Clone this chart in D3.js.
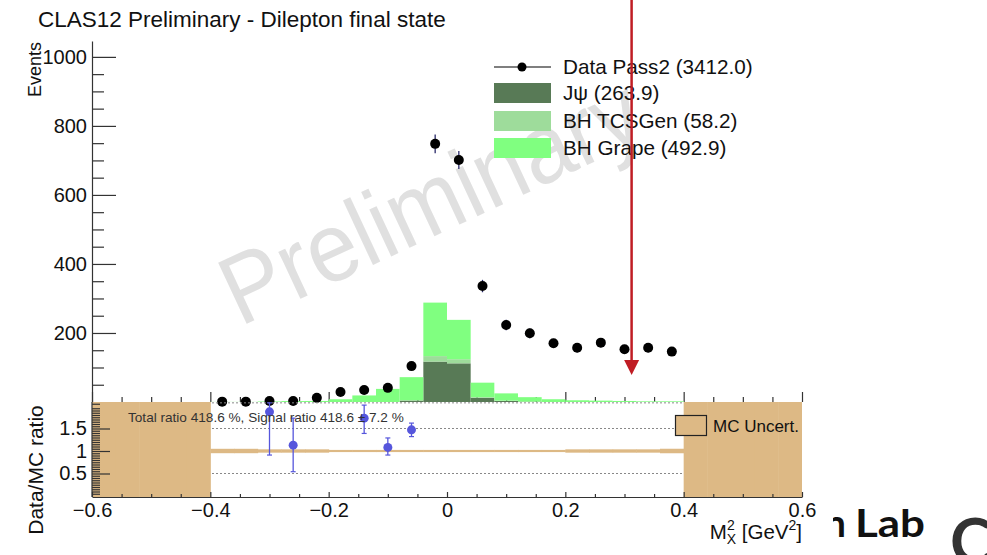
<!DOCTYPE html>
<html lang="en">
<head>
<meta charset="utf-8">
<title>CLAS12 Preliminary - Dilepton final state</title>
<script src="https://d3js.org/d3.v7.min.js"></script>
<style>
  body { margin: 0; background: #fff; }
  svg { display: block; font-family: "Liberation Sans", Arial, sans-serif; }
  .axis path, .axis line { stroke: #333; stroke-width: 1.2; }
  .axis text { font-size: 20px; fill: #111; font-family: "Liberation Sans", Arial, sans-serif; }
</style>
</head>
<body>
<div id="chart"></div>
<script>
// bins of 0.04 in M_X^2
var binW = 0.04;
var binCenters = [-0.58, -0.54, -0.50, -0.46, -0.42, -0.38, -0.34, -0.30, -0.26, -0.22,
                  -0.18, -0.14, -0.10, -0.06, -0.02, 0.02, 0.06, 0.10, 0.14, 0.18,
                  0.22, 0.26, 0.30, 0.34, 0.38, 0.42, 0.46, 0.50, 0.54, 0.58];

var dataCounts = [0, 0, 0, 0, 0, 1, 1, 3, 3, 12,
                  29, 35, 41, 104, 748, 701, 336, 223, 199, 170,
                  157, 172, 153, 157, 146, 0, 0, 0, 0, 0];
var dataErr = [0, 0, 0, 0, 0, 1, 1, 1.7, 1.7, 3.5,
               5.4, 5.9, 6.4, 10.2, 27, 26, 18, 15, 14, 13,
               12.5, 13, 12.4, 12.5, 12, 0, 0, 0, 0, 0];

var jpsi   = [0, 0, 0, 0, 0, 0, 0, 0, 0, 0,
              0, 0, 0, 4, 117, 112, 12, 3, 1, 0,
              0, 0, 0, 0, 0, 0, 0, 0, 0, 0];
var tcsgen = [0, 0, 0, 0, 0, 0, 0, 0, 0, 0,
              0, 0, 0, 1, 16, 12, 2, 1, 0, 0,
              0, 0, 0, 0, 0, 0, 0, 0, 0, 0];
var grape  = [0, 0, 0, 0, 0, 0.3, 0.3, 1.6, 2.7, 3,
              8, 19, 38, 67, 155, 114, 42, 21, 13, 8,
              5, 4, 3, 2, 2, 0, 0, 0, 0, 0];

// MC uncertainty on the ratio (half width around 1); 9 = no MC in the bin
var mcUnc = [9, 9, 9, 9, 9, 0.049, 0.049, 0.037, 0.037, 0.037,
             0.024, 0.024, 0.024, 0.024, 0.024, 0.024, 0.024, 0.024, 0.024, 0.024,
             0.037, 0.037, 0.037, 0.037, 0.05, 9, 9, 9, 9, 9];

// ratio points that fall in the visible range
var ratioX   = [-0.30, -0.26, -0.14, -0.10, -0.06];
var ratioVal = [1.87, 1.13, 1.73, 1.08, 1.47];
var ratioLo  = [0.91, 0.54, 1.39, 0.91, 1.32];
var ratioHi  = [2.07, 1.73, 2.02, 1.29, 1.62];

var legendLabels = ["Data Pass2 (3412.0)", "J\u03C8 (263.9)", "BH TCSGen (58.2)", "BH Grape (492.9)"];
var xTicks = [-0.6, -0.4, -0.2, 0, 0.2, 0.4, 0.6];
var yTicks = [200, 400, 600, 800, 1000];
var rTicks = [0.5, 1, 1.5];
var cutX = 0.312, cutTip = 162;

var w = 987, h = 555;
var svg = d3.select("#chart").append("svg").attr("width", w).attr("height", h);

var x = d3.scaleLinear().domain([-0.6, 0.6]).range([92, 802]);
var yTop = d3.scaleLinear().domain([0, 1046]).range([402, 41]);
var yBot = d3.scaleLinear().domain([0, 2.1]).range([496, 401.5]);

var colors = { jpsi: "#587a56", tcs: "#9edc9b", grape: "#80ff80" };
var tan = "#ddb985";

// watermark
svg.append("text")
   .attr("transform", "translate(240,327) rotate(-25)")
   .attr("font-size", 98)
   .attr("fill", "#e0e0e0")
   .attr("textLength", 452)
   .attr("lengthAdjust", "spacingAndGlyphs")
   .text("Preliminary");

// title
svg.append("text").attr("x", 38).attr("y", 27).attr("font-size", 22.5).attr("fill", "#111")
   .text("CLAS12 Preliminary - Dilepton final state");

// upper pad x ticks (pointing up, no labels)
var minorX = d3.range(-0.6, 0.601, 0.05).filter(function(v) {
  return Math.abs(Math.round(v / 0.2) * 0.2 - v) > 1e-6;
});
svg.append("g").attr("class", "axis").attr("transform", "translate(0,402)")
   .call(d3.axisBottom(x).tickValues(xTicks).tickSize(-10).tickFormat(""))
   .call(function(g) { g.select(".domain").remove(); });
svg.append("g").attr("class", "axis").attr("transform", "translate(0,402)")
   .call(d3.axisBottom(x).tickValues(minorX).tickSize(-5).tickFormat(""))
   .call(function(g) { g.select(".domain").remove(); });

// stacked MC
var rows = binCenters.map(function(c, i) {
  return { c: c, jpsi: jpsi[i], tcs: tcsgen[i], grape: grape[i] };
});
var stack = d3.stack().keys(["jpsi", "tcs", "grape"])(rows);
svg.append("g").selectAll("g").data(stack).join("g")
   .attr("fill", function(d) { return colors[d.key]; })
   .selectAll("rect").data(function(d) { return d.filter(function(p) { return p[1] > p[0]; }); })
   .join("rect")
   .attr("x", function(p) { return x(p.data.c - binW / 2); })
   .attr("width", function(p) { return x(p.data.c + binW / 2) - x(p.data.c - binW / 2); })
   .attr("y", function(p) { return yTop(p[1]); })
   .attr("height", function(p) { return yTop(p[0]) - yTop(p[1]); });

// upper y axis
svg.append("g").attr("class", "axis").attr("transform", "translate(92,0)")
   .call(d3.axisLeft(yTop).tickValues(yTicks).tickSize(-24).tickSizeOuter(0).tickPadding(5)
         .tickFormat(d3.format("d")));
svg.append("g").attr("class", "axis").attr("transform", "translate(92,0)")
   .call(d3.axisLeft(yTop).tickValues(d3.range(50, 1001, 50).filter(function(v) { return v % 200; }))
         .tickSize(-12).tickSizeOuter(0).tickFormat(""))
   .call(function(g) { g.select(".domain").remove(); });

svg.append("text").attr("transform", "translate(41,42) rotate(-90)")
   .attr("text-anchor", "end").attr("font-size", 18).attr("fill", "#111").text("Events");

// data points
var pts = binCenters.map(function(c, i) { return { c: c, v: dataCounts[i], e: dataErr[i] }; })
                    .filter(function(d) { return d.v > 0; });
svg.append("g").selectAll("line").data(pts).join("line")
   .attr("x1", function(d) { return x(d.c); }).attr("x2", function(d) { return x(d.c); })
   .attr("y1", function(d) { return yTop(d.v - d.e); }).attr("y2", function(d) { return yTop(d.v + d.e); })
   .attr("stroke", "#2a2a6a").attr("stroke-width", 1.3);
svg.append("g").selectAll("circle").data(pts).join("circle")
   .attr("cx", function(d) { return x(d.c); }).attr("cy", function(d) { return yTop(d.v); })
   .attr("r", 5).attr("fill", "#000");

// legend
var lg = svg.append("g");
lg.append("line").attr("x1", 494).attr("x2", 551).attr("y1", 67).attr("y2", 67)
  .attr("stroke", "#000").attr("stroke-width", 1.2);
lg.append("circle").attr("cx", 522).attr("cy", 67).attr("r", 4.5).attr("fill", "#000");
var boxTop = [83, 111, 138], boxFill = [colors.jpsi, colors.tcs, colors.grape];
boxTop.forEach(function(t, i) {
  lg.append("rect").attr("x", 494).attr("y", t).attr("width", 57).attr("height", 20).attr("fill", boxFill[i]);
});
var rowY = [67, 93, 121, 148];
legendLabels.forEach(function(s, i) {
  lg.append("text").attr("x", 563).attr("y", rowY[i] + 7).attr("font-size", 20.7).attr("fill", "#111").text(s);
});

// ---- ratio pad ----
var defs = svg.append("defs");
defs.append("clipPath").attr("id", "pad").append("rect")
    .attr("x", 92).attr("y", 402).attr("width", 710).attr("height", 95);
var rp = svg.append("g").attr("clip-path", "url(#pad)");

rp.selectAll("line.grid").data([0.5, 1.5, 2.07]).join("line").attr("class", "grid")
  .attr("x1", 92).attr("x2", 802)
  .attr("y1", function(d) { return yBot(d); }).attr("y2", function(d) { return yBot(d); })
  .attr("stroke", "#888").attr("stroke-width", 1).attr("stroke-dasharray", "2,2");

rp.selectAll("rect.unc").data(binCenters.map(function(c, i) { return { c: c, u: mcUnc[i] }; }))
  .join("rect").attr("class", "unc")
  .attr("x", function(d) { return x(d.c - binW / 2); })
  .attr("width", function(d) { return x(d.c + binW / 2) - x(d.c - binW / 2) + 0.5; })
  .attr("y", function(d) { return yBot(1 + d.u); })
  .attr("height", function(d) { return yBot(1 - d.u) - yBot(1 + d.u) + (d.u > 2 ? 2 : 0); })
  .attr("fill", tan);

var rpts = ratioX.map(function(c, i) { return { c: c, v: ratioVal[i], lo: ratioLo[i], hi: ratioHi[i] }; });
var blue = "#5656dc";
rp.selectAll("line.err").data(rpts).join("line").attr("class", "err")
  .attr("x1", function(d) { return x(d.c); }).attr("x2", function(d) { return x(d.c); })
  .attr("y1", function(d) { return yBot(d.lo); }).attr("y2", function(d) { return yBot(d.hi); })
  .attr("stroke", blue).attr("stroke-width", 1.3);
["lo", "hi"].forEach(function(k) {
  rp.selectAll("line.cap" + k).data(rpts).join("line").attr("class", "cap" + k)
    .attr("x1", function(d) { return x(d.c) - 2.5; }).attr("x2", function(d) { return x(d.c) + 2.5; })
    .attr("y1", function(d) { return yBot(d[k]); }).attr("y2", function(d) { return yBot(d[k]); })
    .attr("stroke", blue).attr("stroke-width", 1.2);
});
rp.selectAll("circle").data(rpts).join("circle")
  .attr("cx", function(d) { return x(d.c); }).attr("cy", function(d) { return yBot(d.v); })
  .attr("r", 4.5).attr("fill", blue);

svg.append("text").attr("x", 128).attr("y", 422).attr("font-size", 13.6).attr("fill", "#333")
   .text("Total ratio 418.6 %, Signal ratio 418.6 \u00B1 7.2 %");

// MC uncert legend
svg.append("rect").attr("x", 675.5).attr("y", 415.5).attr("width", 31).attr("height", 20)
   .attr("fill", tan).attr("stroke", "#222").attr("stroke-width", 1.2);
svg.append("text").attr("x", 713).attr("y", 432).attr("font-size", 17).attr("fill", "#111").text("MC Uncert.");

// ratio axes
var minorR = d3.range(0.05, 2.1, 0.05).filter(function(v) { return Math.abs(v * 2 - Math.round(v * 2)) > 1e-6; });
svg.append("g").attr("class", "axis").attr("transform", "translate(92,0)")
   .call(d3.axisLeft(yBot).tickValues(rTicks).tickSize(-18).tickSizeOuter(0).tickPadding(5)
         .tickFormat(d3.format("~g")))
   .call(function(g) { g.select(".domain").attr("d", "M0,402V497"); });
svg.append("g").attr("class", "axis").attr("transform", "translate(92,0)")
   .call(d3.axisLeft(yBot).tickValues(minorR).tickSize(-8).tickFormat(""))
   .call(function(g) { g.select(".domain").remove(); });

svg.append("g").attr("class", "axis").attr("transform", "translate(0,497)")
   .call(d3.axisBottom(x).tickValues(xTicks).tickSize(-5).tickSizeOuter(0).tickPadding(6)
         .tickFormat(function(d) { return d === 0 ? "0" : d3.format(".1f")(d); }));
svg.append("g").attr("class", "axis").attr("transform", "translate(0,497)")
   .call(d3.axisBottom(x).tickValues(minorX).tickSize(-3).tickFormat(""))
   .call(function(g) { g.select(".domain").remove(); });

svg.append("text").attr("transform", "translate(43,470) rotate(-90)")
   .attr("text-anchor", "middle").attr("font-size", 21).attr("fill", "#111").text("Data/MC ratio");

// x axis title
var xt = svg.append("text").attr("x", 802).attr("y", 539).attr("text-anchor", "end")
            .attr("font-size", 20.5).attr("fill", "#111");
xt.append("tspan").text("M");
xt.append("tspan").attr("font-size", 14).attr("dy", -9).text("2");
xt.append("tspan").attr("font-size", 14).attr("dx", -8).attr("dy", 14).text("X");
xt.append("tspan").attr("dy", -5).text(" [GeV");
xt.append("tspan").attr("font-size", 14).attr("dy", -9).text("2");
xt.append("tspan").attr("dy", 9).text("]");

// red cut arrow
var red = "#c01d24";
svg.append("line").attr("x1", x(cutX)).attr("x2", x(cutX)).attr("y1", 0).attr("y2", yTop(cutTip) + 14)
   .attr("stroke", red).attr("stroke-width", 2.5);
svg.append("path")
   .attr("d", "M" + (x(cutX) - 7.5) + "," + (yTop(cutTip) + 14) + "L" + (x(cutX) + 7.5) + "," + (yTop(cutTip) + 14) +
              "L" + x(cutX) + "," + (yTop(cutTip) + 29) + "Z")
   .attr("fill", red);

// slide background peeking out at bottom right
defs.append("clipPath").attr("id", "slide").append("rect").attr("x", 833).attr("y", 490).attr("width", 160).attr("height", 70);
var sl = svg.append("g").attr("clip-path", "url(#slide)")
            .attr("font-family", "Lato, 'Open Sans', sans-serif").attr("font-weight", 700);
sl.append("text").attr("x", 846).attr("y", 537).attr("text-anchor", "end").attr("font-size", 38).attr("fill", "#111").text("Jefferson");
sl.append("text").attr("x", 855).attr("y", 537).attr("font-size", 38).attr("fill", "#111")
  .attr("textLength", 70).attr("lengthAdjust", "spacingAndGlyphs").text("Lab");
sl.append("text").attr("x", 950).attr("y", 564).attr("font-size", 64).attr("fill", "#333").text("C");
</script>
</body>
</html>
